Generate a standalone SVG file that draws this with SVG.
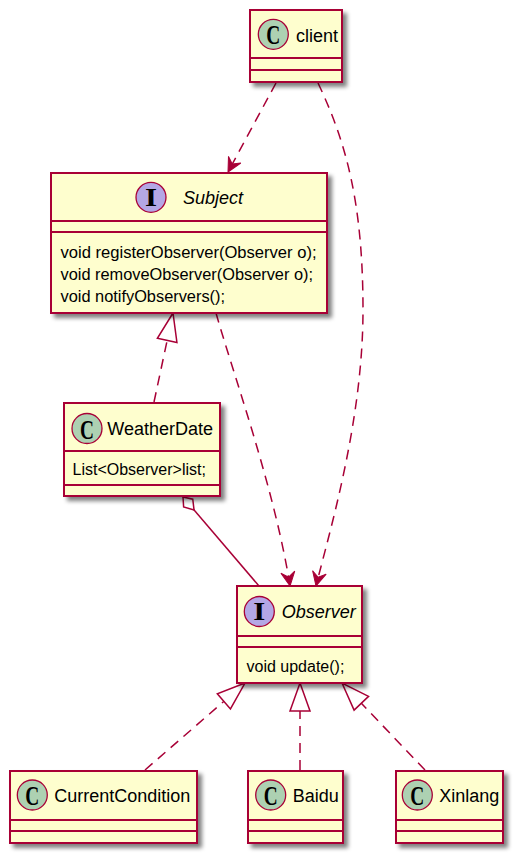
<svg xmlns="http://www.w3.org/2000/svg" width="530" height="862" viewBox="0 0 530 862">
<style>
.box{fill:#FEFECE;stroke:#A80036;stroke-width:2;filter:url(#sh)}
.sep{stroke:#A80036;stroke-width:2}
.cc{fill:#ADD1B2;stroke:#A80036;stroke-width:1.3}
.ic{fill:#B4A7E5;stroke:#A80036;stroke-width:1.3}
.glyph{font-family:"Liberation Serif",serif;font-weight:bold;fill:#000}
.name{font-family:"Liberation Sans",Arial,sans-serif;font-size:18px;fill:#000}
.iname{font-family:"Liberation Sans",Arial,sans-serif;font-size:18px;font-style:italic;fill:#000}
.mem{font-family:"Liberation Sans",Arial,sans-serif;font-size:16px;fill:#000}
.edge{fill:none;stroke:#A80036;stroke-width:1.5}
.dash{stroke-dasharray:10,7}
</style>
<defs>
<filter id="sh" x="-10%" y="-10%" width="130%" height="140%">
<feGaussianBlur in="SourceAlpha" stdDeviation="2"/>
<feOffset dx="4" dy="4" result="b"/>
<feComponentTransfer><feFuncA type="linear" slope="0.5"/></feComponentTransfer>
<feMerge><feMergeNode/><feMergeNode in="SourceGraphic"/></feMerge>
</filter>
<marker id="arrow" markerUnits="userSpaceOnUse" viewBox="-16 -10 20 20" refX="0" refY="0" markerWidth="20" markerHeight="20" orient="auto">
<path d="M0,0 L-14,-7 L-9,0 L-14,7 Z" fill="#A80036" stroke="#A80036" stroke-width="1"/>
</marker>
<marker id="tri" markerUnits="userSpaceOnUse" viewBox="-32 -14 36 28" refX="0" refY="0" markerWidth="36" markerHeight="28" orient="auto">
<path d="M0,0 L-28,-10 L-28,10 Z" fill="#FFFFFF" stroke="#A80036" stroke-width="1.5"/>
</marker>
<marker id="dia" markerUnits="userSpaceOnUse" viewBox="-4 -10 24 20" refX="0" refY="0" markerWidth="24" markerHeight="20" orient="auto">
<path d="M0,0 L8,-6 L17,0 L8,6 Z" fill="#FFFFFF" stroke="#A80036" stroke-width="1.5"/>
</marker>
</defs>
<rect width="530" height="862" fill="#FFFFFF"/>

<g id="connectors">
<path class="edge dash" d="M276,83 L228,172" marker-end="url(#arrow)"/>
<path class="edge dash" d="M318,83 C345,140 363,200 363,310 C363,420 330,530 316,586" marker-end="url(#arrow)"/>
<path class="edge dash" d="M216,313 C232,370 275,490 290,586" marker-end="url(#arrow)"/>
<path class="edge dash" d="M154,402 L173,313" marker-end="url(#tri)"/>
<path class="edge" d="M183,497 L259,586" marker-start="url(#dia)"/>
<path class="edge dash" d="M145,770 L245,683" marker-end="url(#tri)"/>
<path class="edge dash" d="M300,770 L300,683" marker-end="url(#tri)"/>
<path class="edge dash" d="M425,770 L342,683" marker-end="url(#tri)"/>
</g>

<g id="client">
<rect class="box" x="250" y="10" width="92" height="72"/>
<line class="sep" x1="250" y1="58" x2="342" y2="58"/>
<line class="sep" x1="250" y1="70" x2="342" y2="70"/>
<circle class="cc" cx="273.3" cy="34.3" r="15"/>
<text class="glyph" x="266.3" y="44.3" font-size="28" textLength="14" lengthAdjust="spacingAndGlyphs">C</text>
<text class="name" x="296" y="41.5">client</text>
</g>

<g id="Subject">
<rect class="box" x="51" y="173" width="276" height="140"/>
<line class="sep" x1="51" y1="221" x2="327" y2="221"/>
<line class="sep" x1="51" y1="232" x2="327" y2="232"/>
<circle class="ic" cx="151" cy="197.3" r="15"/>
<text class="glyph" x="145" y="205.5" font-size="25" textLength="12" lengthAdjust="spacingAndGlyphs">I</text>
<text class="iname" x="183" y="203.5">Subject</text>
<text class="mem" x="60.5" y="258" textLength="256" lengthAdjust="spacingAndGlyphs">void registerObserver(Observer o);</text>
<text class="mem" x="60.5" y="280" textLength="252.5" lengthAdjust="spacingAndGlyphs">void removeObserver(Observer o);</text>
<text class="mem" x="60.5" y="301.5" textLength="164.5" lengthAdjust="spacingAndGlyphs">void notifyObservers();</text>
</g>

<g id="WeatherDate">
<rect class="box" x="64" y="403" width="156" height="93"/>
<line class="sep" x1="64" y1="451" x2="220" y2="451"/>
<line class="sep" x1="64" y1="485" x2="220" y2="485"/>
<circle class="cc" cx="87" cy="428.5" r="15"/>
<text class="glyph" x="80" y="438.5" font-size="28" textLength="14" lengthAdjust="spacingAndGlyphs">C</text>
<text class="name" x="107.3" y="434.5">WeatherDate</text>
<text class="mem" x="72.5" y="474.5">List&lt;Observer&gt;list;</text>
</g>

<g id="Observer">
<rect class="box" x="237" y="586" width="125" height="97"/>
<line class="sep" x1="237" y1="636" x2="362" y2="636"/>
<line class="sep" x1="237" y1="647" x2="362" y2="647"/>
<circle class="ic" cx="259.3" cy="611.5" r="15"/>
<text class="glyph" x="253.3" y="619.7" font-size="25" textLength="12" lengthAdjust="spacingAndGlyphs">I</text>
<text class="iname" x="281.7" y="618">Observer</text>
<text class="mem" x="246.5" y="671.5">void update();</text>
</g>

<g id="CurrentCondition">
<rect class="box" x="10" y="771" width="187" height="72"/>
<line class="sep" x1="10" y1="820" x2="197" y2="820"/>
<line class="sep" x1="10" y1="831" x2="197" y2="831"/>
<circle class="cc" cx="32.3" cy="795" r="15"/>
<text class="glyph" x="25.3" y="805" font-size="28" textLength="14" lengthAdjust="spacingAndGlyphs">C</text>
<text class="name" x="54.3" y="802">CurrentCondition</text>
</g>

<g id="Baidu">
<rect class="box" x="248" y="771" width="95" height="72"/>
<line class="sep" x1="248" y1="820" x2="343" y2="820"/>
<line class="sep" x1="248" y1="831" x2="343" y2="831"/>
<circle class="cc" cx="270.7" cy="795" r="15"/>
<text class="glyph" x="263.7" y="805" font-size="28" textLength="14" lengthAdjust="spacingAndGlyphs">C</text>
<text class="name" x="292.7" y="802">Baidu</text>
</g>

<g id="Xinlang">
<rect class="box" x="396" y="771" width="107" height="72"/>
<line class="sep" x1="396" y1="820" x2="503" y2="820"/>
<line class="sep" x1="396" y1="831" x2="503" y2="831"/>
<circle class="cc" cx="417.3" cy="795" r="15"/>
<text class="glyph" x="410.3" y="805" font-size="28" textLength="14" lengthAdjust="spacingAndGlyphs">C</text>
<text class="name" x="439.3" y="802">Xinlang</text>
</g>
</svg>
